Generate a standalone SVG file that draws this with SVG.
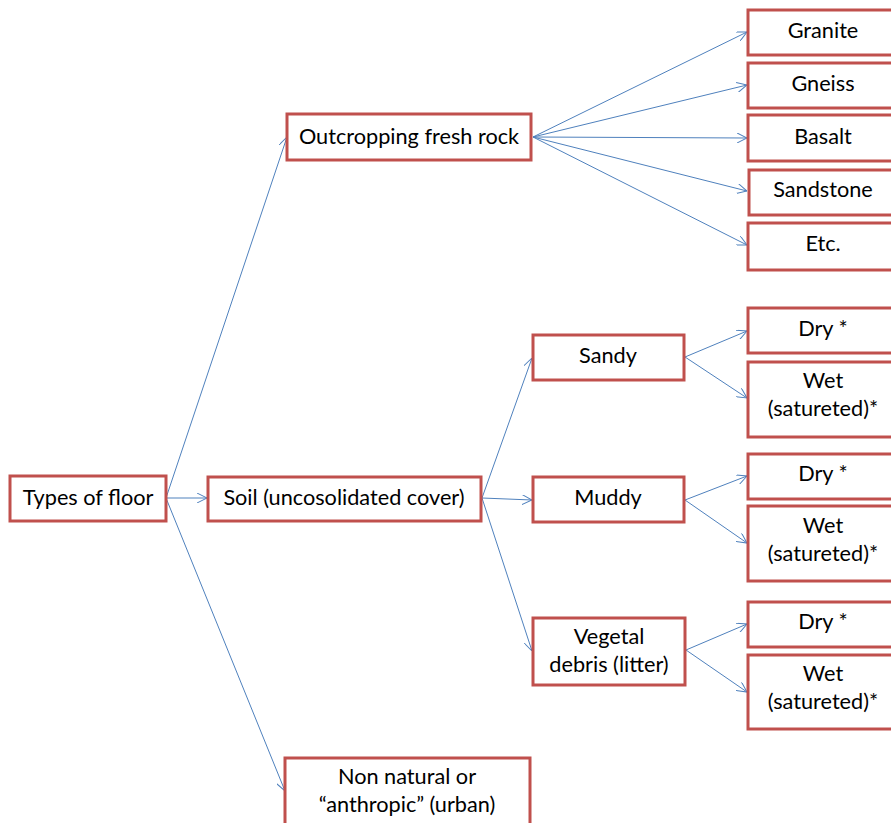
<svg xmlns="http://www.w3.org/2000/svg" width="891" height="823" viewBox="0 0 891 823">
<style>
.b{fill:#fff;stroke:#C0504D;stroke-width:3}
.t{font-family:Lato,"Liberation Sans",sans-serif;font-size:21.7px;fill:#000;text-anchor:middle}
.c line{stroke:#4F81BD;stroke-width:1;fill:none;marker-end:url(#a)}
</style>
<defs>
<marker id="a" viewBox="0 0 10 10" refX="10" refY="5" markerWidth="10" markerHeight="10" markerUnits="userSpaceOnUse" orient="auto">
<path d="M0,0 L10,5 L0,10" fill="none" stroke="#4F81BD" stroke-width="1"/>
</marker>
</defs>
<rect width="891" height="823" fill="#fff"/>
<g class="c">
<line x1="166" y1="498" x2="287" y2="137"/>
<line x1="166" y1="498" x2="207" y2="498"/>
<line x1="166" y1="498" x2="285" y2="791"/>
<line x1="533" y1="137" x2="747" y2="32"/>
<line x1="533" y1="137" x2="747" y2="85"/>
<line x1="533" y1="137" x2="747" y2="138"/>
<line x1="533" y1="137" x2="747" y2="191"/>
<line x1="533" y1="137" x2="747" y2="245"/>
<line x1="482" y1="498" x2="532" y2="358"/>
<line x1="482" y1="498" x2="532" y2="500"/>
<line x1="482" y1="498" x2="532" y2="651"/>
<line x1="685" y1="357" x2="747" y2="331"/>
<line x1="685" y1="357" x2="747" y2="398"/>
<line x1="685" y1="500" x2="747" y2="476"/>
<line x1="685" y1="500" x2="747" y2="543"/>
<line x1="686" y1="650" x2="747" y2="624"/>
<line x1="686" y1="650" x2="747" y2="692"/>
</g>
<g id="types"><rect class="b" x="10" y="476" width="156" height="45"/><text class="t" x="88" y="505">Types of floor</text></g>
<g id="soil"><rect class="b" x="208" y="477" width="273" height="44"/><text class="t" x="344" y="505">Soil (uncosolidated cover)</text></g>
<g id="outcrop"><rect class="b" x="287" y="114" width="244" height="46"/><text class="t" x="409" y="144">Outcropping fresh rock</text></g>
<g id="nonnatural"><rect class="b" x="285" y="758" width="245" height="75"/><text class="t" x="407" y="784">Non natural or</text><text class="t" x="407" y="812">“anthropic” (urban)</text></g>
<g id="granite"><rect class="b" x="748" y="10" width="150" height="45"/><text class="t" x="823" y="38">Granite</text></g>
<g id="gneiss"><rect class="b" x="748" y="63" width="150" height="45"/><text class="t" x="823" y="91">Gneiss</text></g>
<g id="basalt"><rect class="b" x="748" y="115" width="150" height="46"/><text class="t" x="823" y="144">Basalt</text></g>
<g id="sandstone"><rect class="b" x="749" y="170" width="150" height="45"/><text class="t" x="823" y="197">Sandstone</text></g>
<g id="etc"><rect class="b" x="748" y="223" width="150" height="47"/><text class="t" x="823" y="251">Etc.</text></g>
<g id="sandy"><rect class="b" x="533" y="335" width="151" height="45"/><text class="t" x="608" y="363">Sandy</text></g>
<g id="muddy"><rect class="b" x="533" y="477" width="151" height="45"/><text class="t" x="608" y="505">Muddy</text></g>
<g id="vegetal"><rect class="b" x="533" y="618" width="152" height="67"/><text class="t" x="609" y="644">Vegetal</text><text class="t" x="609" y="672">debris (litter)</text></g>
<g id="dry1"><rect class="b" x="748" y="308" width="150" height="45"/><text class="t" x="823" y="336">Dry *</text></g>
<g id="wet1"><rect class="b" x="748" y="362" width="150" height="75"/><text class="t" x="823" y="388">Wet</text><text class="t" x="823" y="416">(satureted)*</text></g>
<g id="dry2"><rect class="b" x="748" y="454" width="150" height="45"/><text class="t" x="823" y="481">Dry *</text></g>
<g id="wet2"><rect class="b" x="748" y="506" width="150" height="75"/><text class="t" x="823" y="533">Wet</text><text class="t" x="823" y="561">(satureted)*</text></g>
<g id="dry3"><rect class="b" x="748" y="602" width="150" height="45"/><text class="t" x="823" y="629">Dry *</text></g>
<g id="wet3"><rect class="b" x="748" y="655" width="150" height="74"/><text class="t" x="823" y="681">Wet</text><text class="t" x="823" y="709">(satureted)*</text></g>
</svg>
